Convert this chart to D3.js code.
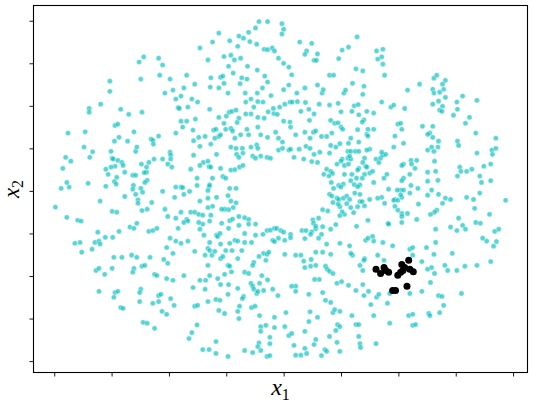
<!DOCTYPE html>
<html><head><meta charset="utf-8">
<script src="https://cdn.jsdelivr.net/npm/d3@7"></script>
<style>html,body{margin:0;padding:0;background:#fff;}svg{display:block}</style>
</head><body>
<svg id="chart" width="533" height="403"></svg>
<script>
// Axis ticks (the reference shows tick marks without labels)
const xTickValues = [-4,-3,-2,-1,0,1,2,3,4];
const yTickValues = [-4,-3,-2,-1,0,1,2,3,4];
const xTickLabels = ["","","","","","","","",""];
const yTickLabels = ["","","","","","","","",""];
const xLabel = {name:"x", sub:"1"};
const yLabel = {name:"x", sub:"2"};

// Ring of cyan points, read region by region [x1, x2]
const ringUpperLeft = [[-2.44,3.15],[-2.52,3.03],[-2.18,3.12],[-2.11,2.96],[-2.16,2.72],[-1.98,2.63],[-1.69,2.72],[-2.49,2.63],[-3.03,2.58],[-3.03,2.34],[-3.19,2.04],[-3.39,1.94],[-3.39,1.85],[-2.84,1.92],[-2.70,1.80],[-2.47,1.85],[-2.07,2.30],[-1.93,2.37],[-1.74,2.42],[-1.55,2.51],[-1.79,2.23],[-1.88,2.16],[-1.84,1.96],[-1.82,1.94],[-1.67,1.97],[-1.60,2.16],[-1.79,1.64],[-1.69,1.64],[-1.54,1.69],[-2.94,1.54],[-2.89,1.57]];

const ringUpperMiddle = [[-0.43,3.98],[-0.28,3.98],[-0.03,3.93],[0.00,3.80],[-0.03,3.69],[-0.49,3.83],[-0.61,3.73],[-0.70,3.59],[-0.78,3.64],[-1.13,3.71],[-1.24,3.50],[-0.94,3.53],[-0.59,3.51],[-0.47,3.45],[-0.80,3.40],[-1.46,3.36],[-0.34,3.33],[-0.28,3.32],[-0.20,3.36],[-0.16,3.29],[0.28,3.50],[0.49,3.47],[1.28,3.62],[1.02,3.31],[1.13,3.38],[0.40,3.29],[0.37,3.21],[0.59,3.22],[0.53,3.07],[0.57,3.07],[0.96,3.11],[-0.09,3.12],[0.00,3.00],[0.09,2.91],[0.14,2.73],[-1.32,3.08],[-1.04,3.16],[-0.92,3.19],[-0.86,3.08],[-0.75,3.12],[-0.63,2.93],[-0.96,2.93],[-0.88,2.77],[-0.46,2.84],[-0.33,2.70],[-0.28,2.56],[0.80,2.72],[0.87,2.72],[1.26,2.87],[1.20,2.53],[-1.27,2.66],[-1.10,2.67],[-1.06,2.70],[-0.73,2.66],[-0.64,2.63],[-1.04,2.53],[-0.76,2.52],[-1.28,2.44],[-1.13,2.42],[-0.97,2.30],[-0.67,2.30],[-0.46,2.30],[-0.37,2.42],[-0.22,2.24],[0.00,2.38],[0.09,2.49],[0.23,2.30],[0.37,2.42],[0.59,2.49],[0.67,2.30],[0.69,2.38],[1.05,2.30],[1.08,2.37],[-1.50,2.09],[-1.29,1.92],[-0.66,2.09],[-0.57,2.16],[-0.52,1.97],[-0.45,2.10],[-0.36,2.09],[-0.18,1.94],[-0.27,1.86],[-0.17,1.82],[-0.11,1.80],[-0.07,1.97],[0.02,2.04],[0.11,2.09],[0.15,2.09],[0.24,2.10],[0.38,2.08],[0.30,1.87],[0.44,1.92],[0.53,1.81],[0.62,2.04],[0.80,2.02],[0.95,2.06],[1.00,1.86],[1.23,2.00],[1.30,2.03],[1.19,1.87],[1.31,1.79],[-1.13,1.73],[-1.00,1.76],[-0.95,1.85],[-0.90,1.87],[-0.83,1.90],[-0.78,1.71],[-0.81,1.61],[-0.66,1.81],[-0.57,1.81],[-0.45,1.73],[-0.34,1.71],[0.00,1.64],[0.11,1.62],[0.45,1.66],[0.82,1.66],[0.89,1.59],[0.95,1.60],[-1.04,1.59]];

const ringUpperRight = [[1.62,3.29],[1.73,3.33],[1.64,3.10],[1.71,3.15],[1.73,2.98],[1.76,2.72],[1.38,2.82],[1.40,2.46],[1.38,2.27],[1.71,2.09],[1.45,1.87],[1.57,1.83],[1.40,1.67],[1.37,1.62],[1.87,1.97],[1.92,2.02],[2.11,1.94],[2.16,2.37],[2.37,2.51],[2.62,2.65],[2.67,2.72],[2.82,2.60],[2.77,2.51],[2.79,2.39],[2.60,2.39],[2.62,2.30],[2.72,2.32],[2.82,2.20],[2.60,2.04],[2.70,2.11],[2.77,1.99],[2.72,1.90],[2.76,1.87],[3.02,2.09],[3.12,2.23],[3.03,1.92],[2.96,1.78],[3.24,1.73],[3.37,2.13],[3.17,1.59],[1.99,1.57],[2.04,1.59]];

const ringMiddleLeft = [[-3.76,1.36],[-3.46,1.39],[-3.48,1.03],[-3.33,0.92],[-3.38,0.79],[-3.80,0.79],[-3.71,0.70],[-3.85,0.53],[-3.88,0.06],[-3.74,0.09],[-3.78,0.20],[-3.41,0.18],[-3.98,-0.38],[-3.78,-0.62],[-3.59,-0.69],[-3.53,-0.71],[-3.20,-0.24],[-3.10,0.11],[-3.24,-0.97],[-3.11,-1.09],[-2.98,-1.09],[-2.87,-0.95],[-2.68,-0.85],[-2.61,-0.88],[-2.56,-0.76],[-2.35,-0.95],[-2.28,-0.93],[-2.21,-0.88],[-3.64,-1.23],[-3.55,-1.21],[-3.29,-1.21],[-3.22,-1.18],[-3.20,-1.25],[-3.01,0.93],[-2.99,0.77],[-2.97,0.75],[-2.89,0.72],[-2.82,0.67],[-2.80,0.60],[-2.94,0.58],[-3.01,0.56],[-3.10,0.51],[-3.06,0.39],[-2.91,0.32],[-2.95,0.22],[-2.92,0.16],[-2.77,0.44],[-2.95,1.17],[-2.87,1.26],[-2.72,1.17],[-2.61,1.39],[-2.58,0.93],[-2.56,1.03],[-2.31,1.22],[-2.28,1.19],[-2.18,1.29],[-2.27,1.10],[-2.63,0.37],[-2.58,0.37],[-2.48,0.63],[-2.39,0.56],[-2.35,0.67],[-2.26,0.75],[-2.39,0.44],[-2.43,0.43],[-2.38,0.25],[-2.42,0.20],[-2.62,0.13],[-2.63,0.04],[-2.49,0.06],[-2.46,-0.03],[-2.58,-0.08],[-2.77,-0.13],[-2.54,-0.21],[-2.54,-0.29],[-2.30,-0.27],[-2.38,-0.43],[-2.47,-0.46],[-2.99,-0.48],[-2.91,-0.50],[-2.11,-0.01],[-2.11,0.75],[-1.98,0.91],[-1.97,0.84],[-1.97,0.75],[-2.02,0.63],[-1.95,0.56],[-1.88,1.36],[-1.76,1.50],[-1.58,1.43],[-1.57,1.18],[-1.57,0.84],[-1.62,0.51],[-1.88,0.09],[-1.79,0.09],[-1.76,0.08],[-1.64,-0.01],[-1.74,-0.08],[-1.90,-0.15],[-2.07,-0.43],[-2.02,-0.60],[-1.88,-0.64],[-1.79,-0.50],[-1.69,-0.67],[-1.67,-0.71],[-1.74,-0.74],[-1.62,-0.50],[-1.55,-0.50],[-1.84,-0.88],[-1.98,-1.11],[-1.88,-1.18],[-1.79,-1.23],[-1.67,-1.18]];

const ringCenter = [[-1.48,1.26],[-1.37,1.28],[-1.27,1.10],[-1.22,1.43],[-1.18,1.45],[-1.20,1.24],[-1.13,1.28],[-1.10,1.32],[-1.01,1.45],[-0.92,1.47],[-0.89,1.41],[-0.85,1.24],[-0.75,1.32],[-0.64,1.45],[-0.61,1.32],[-0.45,1.50],[-0.40,1.32],[-0.28,1.26],[-0.14,1.38],[-0.09,1.24],[-0.02,1.15],[0.12,1.50],[0.21,1.32],[0.37,1.38],[0.46,1.24],[0.52,1.38],[0.56,1.41],[0.66,1.28],[0.75,1.28],[0.84,1.36],[1.00,1.50],[1.03,1.45],[1.29,1.44],[1.31,1.15],[1.17,1.24],
[-1.40,0.67],[-1.32,0.70],[-1.46,0.60],[-1.30,0.57],[-1.17,0.86],[-1.27,0.56],[-1.10,0.53],[-0.92,1.03],[-0.83,1.00],[-0.82,0.86],[-0.78,0.79],[-0.72,1.00],[-0.71,0.89],[-0.57,1.03],[-0.47,1.08],[-0.45,1.00],[-0.54,0.82],[-0.49,0.77],[-0.40,0.82],[-0.29,0.79],[-0.23,0.77],[-0.09,0.96],[-0.02,1.00],[0.09,0.96],[0.12,0.98],[0.18,0.79],[0.27,0.98],[0.39,1.05],[0.46,1.00],[0.53,0.86],[0.63,0.91],[0.35,0.75],[0.49,0.69],[0.59,0.67],[0.80,0.89],[0.82,1.07],[0.91,1.03],[0.98,1.11],[1.13,1.12],[1.12,0.93],[1.17,0.93],[1.25,0.93],[1.31,0.93],[1.12,0.77],[1.02,0.75],[1.00,0.70],[0.93,0.63],[1.06,0.60],[1.13,0.63],[1.17,0.75],
[0.75,0.51],[0.82,0.46],[0.85,0.41],[0.70,0.39],[0.79,0.35],[1.06,0.39],[1.19,0.39],[1.27,0.30],[1.17,0.24],[1.23,0.15],[1.04,0.16],[0.96,0.13],[1.00,0.09],[0.83,0.20],[0.87,0.06],[0.80,-0.08],[0.84,-0.12],[0.93,-0.17],[0.96,-0.20],[1.04,-0.17],[1.10,-0.12],[1.15,-0.20],[1.10,-0.30],[1.24,-0.05],[1.33,-0.25],
[-1.51,0.30],[-1.30,0.10],[-1.29,0.14],[-1.32,0.01],[-1.24,0.30],[-1.06,0.34],[-1.01,0.30],[-0.92,0.49],[-0.85,0.50],[-0.77,0.56],[-0.71,0.60],[-0.94,0.06],[-0.83,0.06],[-0.97,-0.11],[-1.46,-0.24],[-1.32,-0.17],[-1.17,-0.15],[-0.92,-0.24],[-0.83,-0.28],[-0.88,-0.39],[-0.96,-0.44],[-1.03,-0.43],[-1.08,-0.43],[-1.24,-0.36],[-1.32,-0.39],[-1.48,-0.55],[-1.41,-0.57],[-1.27,-0.57],[-1.29,-0.71],[-1.41,-0.78],[-1.46,-0.90],[-1.39,-1.04],[-1.17,-1.04],[-1.15,-1.07],[-1.11,-1.00],[-1.08,-0.76],[-0.96,-0.88],[-0.94,-0.70],[-0.89,-0.66],[-0.78,-0.60],[-0.68,-0.63],[-0.61,-0.67],[-0.61,-0.78],[-0.78,-0.81],[-0.49,-0.78],[-0.49,-1.04],[-0.68,-1.00],[-0.85,-1.16],[-0.80,-1.18],[-0.94,-1.23],[-1.10,-1.25],[-1.29,-1.21],[-0.68,-1.21],[-0.56,-1.21],
[-0.36,-1.02],[-0.29,-0.93],[-0.23,-0.92],[-0.16,-0.88],[-0.12,-0.88],[-0.05,-0.93],[0.00,-0.97],[0.12,-1.02],[0.12,-1.10],[0.02,-1.16],[-0.19,-1.16],[-0.16,-1.19],[-0.09,-1.11],[0.32,-0.93],[0.39,-0.93],[0.49,-0.96],[0.56,-0.89],[0.51,-0.68],[0.52,-0.76],[0.61,-0.64],[0.56,-0.83],[0.68,-0.84],[0.47,-1.02],[0.37,-1.12],[0.61,-1.11],[0.66,-1.02],[0.82,-0.90],[0.75,-1.25],[0.98,-1.23],
[1.27,-0.83],[1.22,-0.51],[1.29,-0.37],[1.17,-0.39],[1.06,-0.55],[1.02,-0.49],[0.98,-0.58],[0.98,-0.37],[0.95,-0.31],[0.86,-0.27],[0.68,-0.44],[0.77,-0.47],[0.91,-0.79],
[1.31,0.53],[1.29,0.49],[1.33,0.14],[1.29,0.10],[1.33,-0.08],[1.15,0.82],[-1.51,0.13],[-1.46,1.05],[-1.48,-0.74]];

const ringMiddleRight = [[1.57,1.45],[1.47,1.45],[1.45,1.33],[1.47,1.29],[1.50,0.98],[1.45,0.96],[1.61,0.75],[1.66,0.67],[1.69,0.77],[1.73,0.84],[1.78,0.86],[1.71,0.91],[1.43,0.58],[1.45,0.56],[1.41,0.39],[1.50,0.42],[1.55,0.46],[1.57,0.20],[1.80,0.39],[1.75,0.30],[1.94,1.29],[1.92,1.03],[2.06,1.45],[2.09,1.12],[2.42,1.52],[2.60,1.52],[2.55,1.36],[2.51,1.33],[2.60,1.26],[2.70,1.17],[2.69,1.03],[2.62,0.93],[2.51,0.96],[2.58,1.03],[3.03,1.17],[3.05,1.07],[3.35,1.36],[3.37,0.89],[3.63,0.96],[3.64,0.86],[3.70,1.00],[3.70,1.24],
[2.09,0.63],[2.06,0.60],[2.22,0.72],[2.32,0.72],[2.23,0.63],[2.29,0.53],[2.20,0.39],[2.09,0.30],[2.06,0.24],[2.22,0.13],[2.04,0.02],[2.09,0.02],[1.98,0.02],[1.83,0.04],[1.94,-0.20],[1.92,-0.22],[1.99,-0.22],[2.06,-0.15],[2.04,-0.09],[2.20,-0.05],[2.34,0.06],[2.51,0.44],[2.65,0.46],[2.63,0.70],[2.69,0.25],[2.51,0.23],[2.51,-0.10],[2.58,0.02],[2.70,-0.08],[2.82,-0.17],[2.91,-0.20],[2.77,-0.29],[2.67,-0.45],[2.63,-0.50],[2.56,-0.55],[2.35,-0.31],[2.16,-0.53],[2.06,-0.53],[2.06,-0.60],[1.99,-0.45],[1.94,-0.36],[1.76,-0.29],[1.71,-0.15],[1.64,-0.17],[1.50,-0.20],[1.37,-0.25],[1.41,-0.35],[1.47,-0.69],[1.82,-0.76],[1.83,-0.78],[2.06,-0.74],[2.32,-0.67],[2.65,-0.90],[2.91,-0.85],[3.02,-0.93],[3.12,-0.81],[3.17,-0.90],[3.05,-0.64],
[3.03,0.35],[3.07,0.56],[3.09,0.46],[3.19,0.46],[3.28,0.51],[3.42,0.35],[3.45,0.20],[3.49,0.58],[3.61,0.63],[3.61,0.24],[3.42,-0.05],[3.19,-0.15],[3.31,-0.20],[3.33,-0.41],[3.35,-0.74],[3.43,-0.76],[3.59,-0.55],[3.68,-0.95],[3.75,-0.90],[3.71,-1.19],[3.47,-1.11],[3.54,-1.18],[3.87,-0.22],[1.43,-1.16],[1.55,-1.07],[1.57,-1.18],[1.47,-1.11],[1.73,-1.21],[2.65,-1.21],[1.41,0.77],[1.38,0.67],[1.37,0.30]];

const ringLowerLeft = [[-3.52,-1.44],[-3.34,-1.37],[-2.96,-1.56],[-2.82,-1.56],[-2.65,-1.51],[-2.56,-1.56],[-2.33,-1.56],[-3.27,-1.87],[-3.22,-1.82],[-3.12,-1.96],[-2.99,-1.82],[-2.61,-1.82],[-2.63,-1.91],[-2.47,-1.77],[-2.42,-1.75],[-2.25,-1.96],[-2.21,-1.99],[-2.09,-1.61],[-2.02,-1.70],[-1.93,-1.47],[-2.04,-1.33],[-1.55,-1.42],[-1.74,-1.99],[-2.04,-2.06],[-1.93,-2.10],[-3.22,-2.36],[-2.94,-2.39],[-2.89,-2.36],[-2.96,-2.50],[-2.49,-2.31],[-2.51,-2.39],[-2.51,-2.60],[-2.28,-2.64],[-2.18,-2.60],[-2.18,-2.46],[-2.14,-2.43],[-1.97,-2.53],[-1.91,-2.69],[-2.12,-2.83],[-2.04,-2.90],[-2.84,-2.74],[-2.80,-2.76],[-2.45,-3.09],[-2.38,-3.11],[-2.25,-3.23],[-1.58,-2.27],[-1.55,-2.71],[-1.60,-3.33],[-1.65,-3.47]];

const ringLowerMiddle = [[-1.37,-1.51],[-1.32,-1.35],[-1.29,-1.40],[-1.25,-1.51],[-1.20,-1.42],[-1.01,-1.40],[-0.90,-1.40],[-0.73,-1.40],[-1.10,-1.59],[-1.06,-1.54],[-0.80,-1.59],[-0.97,-1.75],[-0.94,-1.77],[-0.91,-1.90],[-1.32,-1.75],[-1.29,-1.99],[-1.36,-2.10],[-1.46,-2.10],[-1.37,-2.31],[-1.15,-2.06],[-1.03,-1.96],[-1.10,-2.20],[-0.96,-2.20],[-0.80,-2.29],[-0.68,-1.91],[-0.61,-1.94],[-0.52,-1.68],[-0.54,-1.75],[-0.43,-1.54],[-0.35,-1.47],[-0.29,-1.49],[-0.31,-1.63],[-0.26,-1.44],[-0.38,-1.99],[-0.28,-2.09],[-0.42,-2.17],[-0.57,-2.17],[-0.54,-2.24],[-0.52,-2.31],[-0.47,-2.41],[-0.45,-2.36],[-0.35,-2.34],[-0.19,-2.31],[-0.10,-2.46],[-0.70,-2.48],[-0.72,-2.53],[-0.97,-2.43],[-1.18,-2.55],[-1.11,-2.57],[-1.32,-2.60],[-1.50,-2.69],[-1.13,-2.81],[-1.03,-2.88],[-0.77,-2.71],[-0.80,-2.83],[-0.78,-3.00],[-0.56,-2.74],[-0.50,-2.71],[-0.42,-2.93],[-0.16,-2.97],[0.04,-2.86],[0.02,-3.19],[0.09,-3.40],[0.14,-3.35],[0.18,-3.63],[0.21,-3.86],[0.30,-3.86],[0.37,-3.70],[0.40,-3.82],[0.53,-3.61],[0.56,-3.49],[0.72,-3.73],[0.75,-3.77],[0.66,-3.87],[0.80,-3.42],[0.93,-3.56],[0.98,-3.77],[0.91,-3.28],[0.94,-3.14],[0.98,-3.19],[1.19,-2.93],[1.26,-3.14],[1.31,-3.14],[1.31,-3.42],[1.33,-3.59],[1.34,-3.68],[0.37,-3.30],[0.44,-3.07],[0.46,-2.84],[0.59,-2.97],[0.86,-2.86],[0.89,-2.79],[0.98,-2.83],[0.82,-2.62],[0.73,-2.57],[0.68,-2.39],[0.44,-2.43],[0.21,-2.24],[0.21,-2.36],[0.14,-2.24],[0.62,-2.08],[0.54,-2.08],[0.93,-2.17],[1.01,-2.13],[1.13,-2.22],[1.26,-2.34],[1.33,-1.75],[1.20,-1.51],[1.17,-1.47],[1.15,-1.29],[0.82,-1.49],[0.68,-1.44],[0.56,-1.44],[0.48,-1.61],[0.35,-1.65],[0.37,-1.80],[0.47,-1.77],[0.56,-1.75],[0.73,-1.77],[0.76,-1.84],[0.80,-1.89],[0.86,-1.94],[0.02,-1.49],[0.21,-1.51],[0.30,-1.51],[-1.51,-3.15],[-1.18,-3.54],[-1.41,-3.73],[-1.30,-3.73],[-1.18,-3.82],[-0.97,-3.89],[-0.68,-3.75],[-0.54,-3.80],[-0.43,-3.57],[-0.45,-3.66],[-0.40,-3.75],[-0.24,-3.44],[-0.24,-3.59],[-0.29,-3.89],[-0.24,-3.87],[-0.40,-3.19],[-0.40,-3.30],[-0.31,-3.16],[-0.16,-3.21]];

const ringLowerRight = [[1.41,-1.59],[1.40,-1.63],[1.38,-1.87],[1.64,-1.51],[1.75,-1.63],[2.20,-1.37],[2.25,-1.33],[2.25,-1.51],[2.49,-1.33],[2.62,-1.49],[2.94,-1.47],[2.41,-1.66],[2.51,-1.84],[2.58,-1.80],[2.63,-1.94],[2.81,-1.75],[2.86,-1.87],[3.02,-1.87],[3.16,-1.77],[3.37,-1.75],[3.61,-1.66],[3.66,-1.30],[1.38,-2.20],[1.48,-2.36],[1.40,-2.46],[1.62,-2.50],[1.66,-2.43],[1.52,-2.67],[1.81,-2.64],[1.85,-2.41],[2.20,-2.41],[2.41,-2.36],[2.56,-2.15],[2.70,-2.46],[2.76,-2.48],[2.79,-2.69],[2.72,-2.86],[2.53,-2.88],[2.55,-2.93],[3.10,-2.41],[2.18,-2.93],[2.25,-2.90],[1.85,-3.11],[2.25,-3.16],[2.30,-3.14],[1.57,-2.93],[1.61,-3.59],[1.90,-1.29]];

// Highlighted cluster (black)
const clusterPoints = [[1.61,-1.84],[1.69,-1.94],[1.75,-1.80],[1.78,-1.87],[1.83,-1.91],[1.99,-1.98],[2.04,-1.91],[2.08,-1.87],[2.06,-1.73],[2.11,-1.80],[2.18,-1.63],[2.20,-1.84],[2.26,-1.90],[2.15,-2.24],[1.90,-2.34],[1.95,-2.34]];

const ringPoints = [].concat(ringUpperLeft, ringUpperMiddle, ringUpperRight,
  ringMiddleLeft, ringCenter, ringMiddleRight,
  ringLowerLeft, ringLowerMiddle, ringLowerRight);

const box = {left:33, right:528, top:5, bottom:373};
const svg = d3.select("#chart");

const x = d3.scaleLinear().domain([-4.37, 4.26]).range([box.left, box.right]);
const y = d3.scaleLinear().domain([-4.28, 4.37]).range([box.bottom, box.top]);

// Points
svg.append("g").selectAll("circle").data(ringPoints).join("circle")
  .attr("cx", d => x(d[0])).attr("cy", d => y(d[1])).attr("r", 2.6)
  .attr("fill", "#00bfbf").attr("fill-opacity", 0.65)
  .attr("stroke", "#ffffff").attr("stroke-opacity", 0.55).attr("stroke-width", 0.7);

svg.append("g").selectAll("circle").data(clusterPoints).join("circle")
  .attr("cx", d => x(d[0])).attr("cy", d => y(d[1])).attr("r", 3.5)
  .attr("fill", "#000");

// Axes (ticks only)
const xAxis = svg.append("g").attr("transform", `translate(0,${box.bottom})`)
  .call(d3.axisBottom(x).tickValues(xTickValues).tickSize(3.5).tickFormat((d,i) => xTickLabels[i]));
const yAxis = svg.append("g").attr("transform", `translate(${box.left},0)`)
  .call(d3.axisLeft(y).tickValues(yTickValues).tickSize(3.5).tickFormat((d,i) => yTickLabels[i]));
[xAxis, yAxis].forEach(g => {
  g.select(".domain").remove();
  g.selectAll(".tick line").attr("stroke", "#000").attr("stroke-width", 0.9);
});

// Frame
svg.append("rect")
  .attr("x", box.left + 0.5).attr("y", box.top + 0.5)
  .attr("width", box.right - box.left - 1).attr("height", box.bottom - box.top - 1)
  .attr("fill", "none").attr("stroke", "#000").attr("stroke-width", 1.1);

// Axis labels
const xl = svg.append("text").attr("x", (box.left + box.right) / 2).attr("y", 395)
  .attr("text-anchor", "middle").attr("font-family", "'Liberation Serif', 'DejaVu Serif', serif")
  .attr("font-size", 24).attr("fill", "#000");
xl.append("tspan").attr("font-style", "italic").text(xLabel.name);
xl.append("tspan").attr("font-size", 16).attr("dy", 5).text(xLabel.sub);

const yl = svg.append("text").attr("transform", `translate(19,${(box.top + box.bottom) / 2}) rotate(-90)`)
  .attr("text-anchor", "middle").attr("font-family", "'Liberation Serif', 'DejaVu Serif', serif")
  .attr("font-size", 23).attr("fill", "#000");
yl.append("tspan").attr("font-style", "italic").text(yLabel.name);
yl.append("tspan").attr("font-size", 16).attr("dy", 4).text(yLabel.sub);
</script>
</body></html>
